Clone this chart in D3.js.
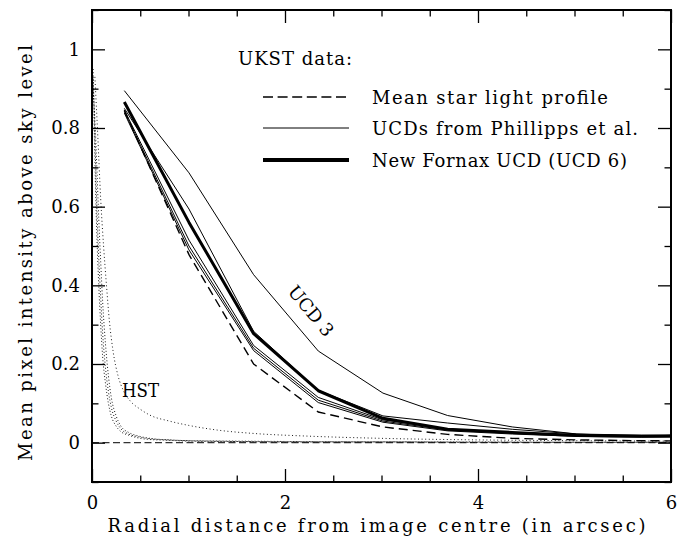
<!DOCTYPE html>
<html>
<head>
<meta charset="utf-8">
<script src="https://cdn.jsdelivr.net/npm/d3@7"></script>
<style>
  html, body { margin: 0; padding: 0; background: #fff; }
  svg { display: block; }
  text { font-family: "DejaVu Serif", "Liberation Serif", serif; fill: #000; }
</style>
</head>
<body>
<svg id="chart" width="691" height="542"></svg>
<script>
// ---------- DATA ----------
const xTicksMajor = [0, 2, 4, 6];
const yTicksMajor = [0, 0.2, 0.4, 0.6, 0.8, 1];
const yTickLabels = ["0", "0.2", "0.4", "0.6", "0.8", "1"];

// UKST sampling radii (arcsec)
const ukstR = [0.335, 1.005, 1.675, 2.345, 3.015, 3.685, 4.355, 5.025, 5.695, 6.365];
// Mean star light profile (dashed)
const starMean = [0.845, 0.478, 0.200, 0.078, 0.040, 0.021, 0.011, 0.007, 0.005, 0.004];
// UCDs from Phillipps et al. (thin)
const ucd3 = [0.895, 0.686, 0.427, 0.233, 0.126, 0.069, 0.040, 0.022, 0.016, 0.022];
const ucdA = [0.850, 0.594, 0.283, 0.133, 0.068, 0.050, 0.034, 0.022, 0.019, 0.019];
const ucdB = [0.846, 0.515, 0.247, 0.115, 0.058, 0.035, 0.026, 0.020, 0.016, 0.016];
const ucdC = [0.842, 0.500, 0.240, 0.108, 0.055, 0.032, 0.024, 0.018, 0.016, 0.017];
const ucdD = [0.838, 0.490, 0.234, 0.102, 0.052, 0.030, 0.022, 0.016, 0.014, 0.015];
// New Fornax UCD (UCD 6) (thick)
const ucd6 = [0.866, 0.560, 0.277, 0.132, 0.062, 0.034, 0.026, 0.018, 0.016, 0.018];

// HST profiles (dotted)
const hstR = [0.012, 0.03, 0.05, 0.07, 0.09, 0.11, 0.14, 0.17, 0.2, 0.25, 0.3, 0.38, 0.48, 0.6, 0.8, 1.0, 1.5, 2, 3, 4, 5, 6];
const hst1 = [0.95, 0.72, 0.53, 0.40, 0.30, 0.22, 0.15, 0.10, 0.068, 0.042, 0.028, 0.019, 0.012, 0.008, 0.006, 0.004, 0.003, 0.002, 0.002, 0.001, 0.001, 0.001];
const hst2 = [0.93, 0.78, 0.60, 0.47, 0.37, 0.28, 0.19, 0.13, 0.090, 0.055, 0.035, 0.022, 0.015, 0.010, 0.007, 0.005, 0.003, 0.002, 0.002, 0.001, 0.001, 0.001];
const hst3 = [0.90, 0.82, 0.70, 0.57, 0.46, 0.36, 0.25, 0.17, 0.115, 0.068, 0.042, 0.026, 0.017, 0.011, 0.007, 0.005, 0.004, 0.003, 0.002, 0.002, 0.001, 0.001];
const hstWideR = [0.03, 0.06, 0.09, 0.12, 0.15, 0.18, 0.22, 0.27, 0.33, 0.4, 0.5, 0.6, 0.8, 1.0, 1.3, 1.7, 2.2, 3.0, 4.0, 5.0, 6.0];
const hstWide  = [0.93, 0.78, 0.62, 0.50, 0.40, 0.31, 0.23, 0.17, 0.13, 0.105, 0.085, 0.070, 0.055, 0.044, 0.032, 0.023, 0.017, 0.011, 0.007, 0.005, 0.004];

const legendTitle = "UKST data:";
const legendLabels = ["Mean star light profile", "UCDs from Phillipps et al.", "New Fornax UCD (UCD 6)"];
const xTitle = "Radial distance from image centre (in arcsec)";
const yTitle = "Mean pixel intensity above sky level";

// ---------- LAYOUT ----------
const L = 92, R = 671, T = 10, B = 482;
const svg = d3.select("#chart");
const x = d3.scaleLinear().domain([0, 6]).range([L, R]);
const y = d3.scaleLinear().domain([-0.1, 1.1]).range([B, T]);

const minorX = d3.range(0, 6.001, 0.5).filter(v => xTicksMajor.indexOf(v) < 0);
const minorY = d3.range(-0.1, 1.1001, 0.1).map(v => +v.toFixed(2)).filter(v => yTicksMajor.indexOf(v) < 0);

svg.append("defs").append("clipPath").attr("id", "clip")
  .append("rect").attr("x", L).attr("y", T).attr("width", R - L).attr("height", B - T);

const plot = svg.append("g").attr("clip-path", "url(#clip)");

// zero line
plot.append("line")
  .attr("x1", x(0)).attr("x2", x(6)).attr("y1", y(0)).attr("y2", y(0))
  .attr("stroke", "#333").attr("stroke-width", 1.3).attr("stroke-dasharray", "7,3.5");

const lineGen = (xs) => d3.line().x((d, i) => x(xs[i])).y(d => y(d));
const smoothGen = (xs) => d3.line().x((d, i) => x(xs[i])).y(d => y(d)).curve(d3.curveMonotoneX);

// HST dotted
[hst1, hst2, hst3].forEach(s => {
  plot.append("path").datum(s).attr("d", smoothGen(hstR))
    .attr("fill", "none").attr("stroke", "#000").attr("stroke-width", 0.9)
    .attr("stroke-dasharray", "1,2.2");
});
plot.append("path").datum(hstWide).attr("d", smoothGen(hstWideR))
  .attr("fill", "none").attr("stroke", "#000").attr("stroke-width", 0.9)
  .attr("stroke-dasharray", "1,2.6");

// UKST curves
plot.append("path").datum(starMean).attr("d", lineGen(ukstR))
  .attr("fill", "none").attr("stroke", "#000").attr("stroke-width", 1.4)
  .attr("stroke-dasharray", "9,5");
[ucd3, ucdA, ucdB, ucdC, ucdD].forEach(s => {
  plot.append("path").datum(s).attr("d", lineGen(ukstR))
    .attr("fill", "none").attr("stroke", "#000").attr("stroke-width", 1);
});
plot.append("path").datum(ucd6).attr("d", lineGen(ukstR))
  .attr("fill", "none").attr("stroke", "#000").attr("stroke-width", 3)
  .attr("stroke-linejoin", "round");

// ---------- AXES ----------
const fontSize = 18;
svg.append("g").attr("transform", `translate(0,${B})`)
  .call(d3.axisBottom(x).tickValues(xTicksMajor).tickFormat(d3.format("d")).tickSize(-13).tickPadding(14));
svg.append("g").attr("transform", `translate(0,${B})`)
  .call(d3.axisBottom(x).tickValues(minorX).tickFormat("").tickSize(-6.5));
svg.append("g").attr("transform", `translate(0,${T})`)
  .call(d3.axisTop(x).tickValues(xTicksMajor).tickFormat("").tickSize(-13));
svg.append("g").attr("transform", `translate(0,${T})`)
  .call(d3.axisTop(x).tickValues(minorX).tickFormat("").tickSize(-6.5));

svg.append("g").attr("transform", `translate(${L},0)`)
  .call(d3.axisLeft(y).tickValues(yTicksMajor).tickFormat((d, i) => yTickLabels[i]).tickSize(-13).tickPadding(12));
svg.append("g").attr("transform", `translate(${L},0)`)
  .call(d3.axisLeft(y).tickValues(minorY).tickFormat("").tickSize(-6.5));
svg.append("g").attr("transform", `translate(${R},0)`)
  .call(d3.axisRight(y).tickValues(yTicksMajor).tickFormat("").tickSize(-13));
svg.append("g").attr("transform", `translate(${R},0)`)
  .call(d3.axisRight(y).tickValues(minorY).tickFormat("").tickSize(-6.5));

svg.selectAll(".domain").remove();
svg.selectAll(".tick line").attr("stroke", "#000").attr("stroke-width", 1.3);
svg.selectAll(".tick text")
  .style("font-family", '"DejaVu Serif", serif').style("font-size", fontSize + "px").attr("fill", "#000");

// frame
svg.append("rect").attr("x", L).attr("y", T).attr("width", R - L).attr("height", B - T)
  .attr("fill", "none").attr("stroke", "#000").attr("stroke-width", 2);

// axis titles
svg.append("text").attr("x", (L + R) / 2 - 5).attr("y", 532)
  .attr("text-anchor", "middle").style("font-size", fontSize + "px")
  .attr("textLength", 538).attr("lengthAdjust", "spacing").text(xTitle);
svg.append("text").attr("transform", "translate(32,253) rotate(-90)")
  .attr("text-anchor", "middle").style("font-size", fontSize + "px")
  .attr("textLength", 416).attr("lengthAdjust", "spacing").text(yTitle);

// ---------- LEGEND ----------
svg.append("text").attr("x", 238).attr("y", 65).style("font-size", fontSize + "px")
  .attr("textLength", 114).attr("lengthAdjust", "spacing").text(legendTitle);
const legY = [97, 128, 160];
const legW = [236, 266, 255];
const legStyles = [
  { w: 1.4, dash: "10,4.6" },
  { w: 1, dash: null },
  { w: 4, dash: null }
];
legendLabels.forEach((lab, i) => {
  const ln = svg.append("line").attr("x1", 263).attr("x2", 349)
    .attr("y1", legY[i]).attr("y2", legY[i])
    .attr("stroke", "#000").attr("stroke-width", legStyles[i].w);
  if (legStyles[i].dash) ln.attr("stroke-dasharray", legStyles[i].dash);
  svg.append("text").attr("x", 372).attr("y", legY[i] + 6.5)
    .style("font-size", fontSize + "px")
    .attr("textLength", legW[i]).attr("lengthAdjust", "spacing").text(lab);
});

// annotations
svg.append("text").attr("x", 122).attr("y", 397).style("font-size", "18px")
  .attr("textLength", 37).attr("lengthAdjust", "spacingAndGlyphs").text("HST");
svg.append("text").attr("transform", "translate(311,311) rotate(50)")
  .attr("text-anchor", "middle").attr("dy", "0.35em").style("font-size", fontSize + "px")
  .attr("textLength", 60).attr("lengthAdjust", "spacing").text("UCD 3");
</script>
</body>
</html>
